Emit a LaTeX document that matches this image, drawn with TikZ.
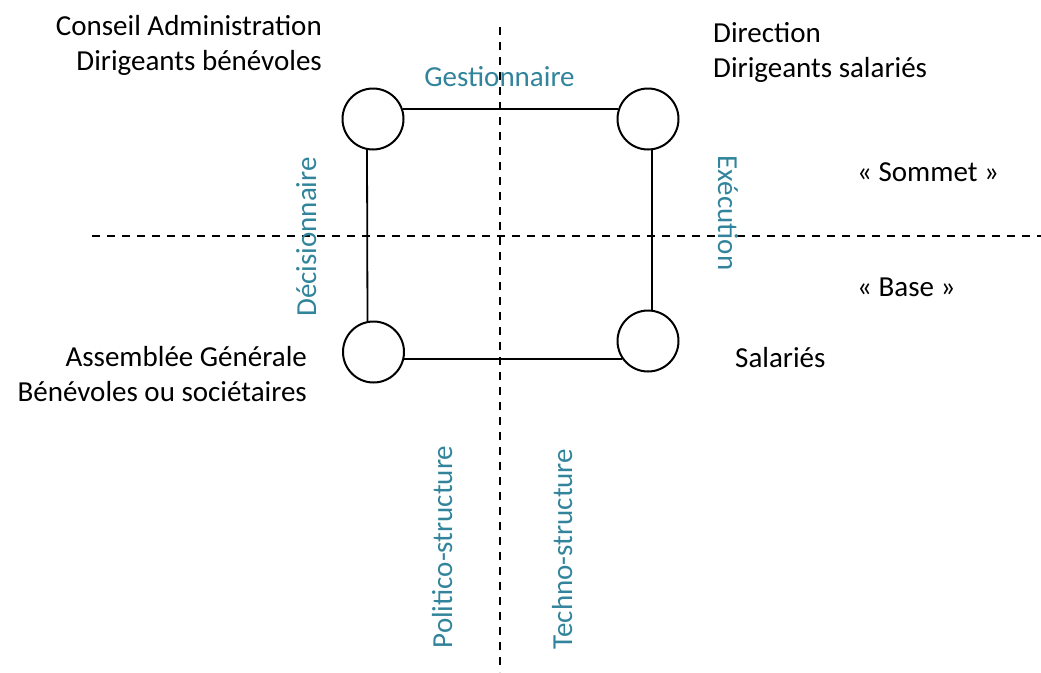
\documentclass[tikz,border=0pt]{standalone}
\usepackage{fontspec}
\setmainfont{Carlito}
\usetikzlibrary{positioning}
\definecolor{roleteal}{HTML}{31849B}

\begin{document}
\begin{tikzpicture}[x=1pt, y=-1pt,
  every node/.style={font=\fontsize{29}{35}\selectfont, inner sep=0pt},
  pole/.style={circle, draw, line width=2pt, minimum size=61pt},
  link/.style={line width=1.8pt},
  axe/.style={line width=2pt, dash pattern=on 8pt off 7pt},
  role/.style={text=roleteal}]

  \useasboundingbox (0,0) rectangle (1041,672);

  % ---- Axes ----
  \coordinate (vtop) at (500,27);
  \coordinate (vbot) at (500,672);
  \coordinate (hleft) at (92,236);
  \coordinate (hright) at (1041,236);
  \draw[axe] (vtop) -- (vbot);
  \draw[axe] (hleft) -- (hright);

  % ---- The four poles ----
  \node[pole] (ca)  at (373,119)   {};
  \node[pole] (dir) at (648,119)   {};
  \node[pole] (ag)  at (373.5,352) {};
  \node[pole] (sal) at (648,341)   {};

  \draw[link] (ca.19)   -- (dir.161);
  \draw[link] (ca.-101) -- (ag.101);
  \draw[link] (dir.-83) -- (sal.83);
  \draw[link] (ag.-13)  -- (sal.-145);

  % ---- Who sits where (base = last line) ----
  \node[anchor=base east, align=right] (calabel) at (322,70)
    {Conseil Administration\\Dirigeants bénévoles};
  \node[anchor=base west, align=left] (dirlabel) at (713,77)
    {Direction\\Dirigeants salariés};
  \node[anchor=base east, align=right] (aglabel) at (307,401)
    {Assemblée Générale\\Bénévoles ou sociétaires};
  \node[anchor=base west] (sallabel) at (735,367) {Salariés};

  \node[anchor=base west] (sommet) at (857,181) {«~Sommet~»};
  \node[anchor=base west] (base)   at (857,296) {«~Base~»};

  % ---- Roles along the sides ----
  \node[role, anchor=base] (gest) at (499.5,86) {Gestionnaire};
  \node[role, anchor=base, rotate=90]  (deci) at (316,237) {Décisionnaire};
  \node[role, anchor=base, rotate=-90] (exec) at (718,213) {Exécution};
  \node[role, anchor=base, rotate=90]  (polit)  at (452,547) {Politico-structure};
  \node[role, anchor=base, rotate=90]  (techno) at (572,549) {Techno-structure};

\end{tikzpicture}
\end{document}
